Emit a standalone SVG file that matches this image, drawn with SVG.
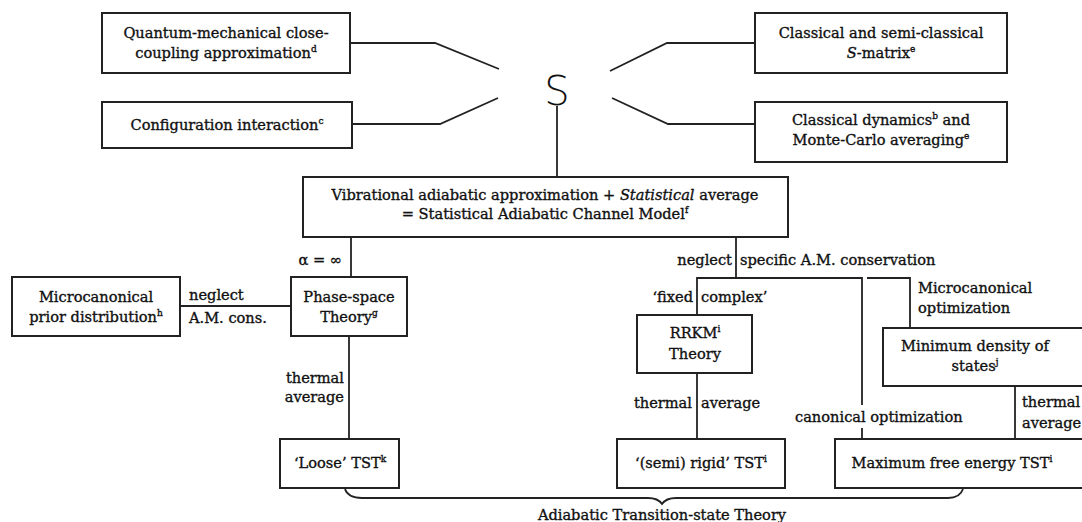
<svg xmlns="http://www.w3.org/2000/svg" width="1082" height="522" viewBox="0 0 1082 522">
<style>
.box{fill:#fff;stroke:#222;stroke-width:2}
.ln{fill:none;stroke:#222;stroke-width:1.8}
text{font-family:"DejaVu Serif","Liberation Serif",serif;font-size:14.6px;fill:#111;stroke:#111;stroke-width:0.35}
.c{text-anchor:middle}
.e{text-anchor:end}
.sup{font-size:9px}
.it{font-style:italic}
</style>
<rect width="1082" height="522" fill="#fff"/>
<g id="connectors">
<path class="ln" d="M350 43 H435 L499 69"/>
<path class="ln" d="M352 124 H440 L498 98"/>
<path class="ln" d="M610 71 L667 43 H755"/>
<path class="ln" d="M612 98 L668 124 H755"/>
<path class="ln" d="M557 106 V177"/>
<path class="ln" d="M351 237 V277"/>
<path class="ln" d="M180 306 H290"/>
<path class="ln" d="M349 337 V439"/>
<path class="ln" d="M736 237 V278"/>
<path class="ln" d="M697 315 V278 H862 V405 M862 428 V439"/>
<path class="ln" d="M867 278 H910 V328"/>
<path class="ln" d="M697 373 V439"/>
<path class="ln" d="M1015 386 V439"/>
<path class="ln" d="M345 489 Q348 498 362 498 H648 Q658 498 662 504 Q666 498 676 498 H948 Q960 498 963 489"/>
</g>
<g id="S"><text x="557" y="105" class="c" style="font-family:'DejaVu Sans','Liberation Sans',sans-serif;font-size:40px;font-weight:300;stroke:none">S</text></g>
<g id="qm">
<rect class="box" x="102" y="13" width="248" height="60"/>
<text x="226" y="38" class="c">Quantum-mechanical close-</text>
<text x="226" y="58" class="c">coupling approximation<tspan class="sup" dy="-6">d</tspan></text>
</g>
<g id="ci">
<rect class="box" x="102" y="102" width="250" height="46"/>
<text x="227" y="130" class="c">Configuration interaction<tspan class="sup" dy="-6">c</tspan></text>
</g>
<g id="smatrix">
<rect class="box" x="755" y="13" width="252" height="60"/>
<text x="881" y="38" class="c">Classical and semi-classical</text>
<text x="881" y="58" class="c"><tspan class="it">S</tspan>-matrix<tspan class="sup" dy="-6">e</tspan></text>
</g>
<g id="cd">
<rect class="box" x="755" y="102" width="252" height="60"/>
<text x="881" y="125" class="c">Classical dynamics<tspan class="sup" dy="-6">b</tspan><tspan dy="6"> and</tspan></text>
<text x="881" y="145" class="c">Monte-Carlo averaging<tspan class="sup" dy="-6">e</tspan></text>
</g>
<g id="sacm">
<rect class="box" x="303" y="177" width="485" height="60"/>
<text x="545" y="200" class="c">Vibrational adiabatic approximation + <tspan class="it">Statistical</tspan> average</text>
<text x="545" y="219" class="c">= Statistical Adiabatic Channel Model<tspan class="sup" dy="-6">f</tspan></text>
</g>
<g id="prior">
<rect class="box" x="12" y="277" width="168" height="59"/>
<text x="96" y="302" class="c">Microcanonical</text>
<text x="96" y="322" class="c">prior distribution<tspan class="sup" dy="-6">h</tspan></text>
</g>
<g id="pst">
<rect class="box" x="291" y="277" width="116" height="59"/>
<text x="349" y="302" class="c">Phase-space</text>
<text x="349" y="322" class="c">Theory<tspan class="sup" dy="-6">g</tspan></text>
</g>
<g id="rrkm">
<rect class="box" x="637" y="315" width="115" height="58"/>
<text x="695" y="338" class="c">RRKM<tspan class="sup" dy="-6">i</tspan></text>
<text x="695" y="359" class="c">Theory</text>
</g>
<g id="mindens">
<rect class="box" x="883" y="328" width="210" height="58"/>
<text x="975" y="351" class="c">Minimum density of</text>
<text x="975" y="371" class="c">states<tspan class="sup" dy="-6">j</tspan></text>
</g>
<g id="loose">
<rect class="box" x="280" y="439" width="119" height="49"/>
<text x="340" y="468" class="c">‘Loose’ TST<tspan class="sup" dy="-6">k</tspan></text>
</g>
<g id="rigid">
<rect class="box" x="617" y="439" width="168" height="49"/>
<text x="701" y="468" class="c">‘(semi) rigid’ TST<tspan class="sup" dy="-6">i</tspan></text>
</g>
<g id="maxfe">
<rect class="box" x="835" y="439" width="260" height="49"/>
<text x="952" y="468" class="c">Maximum free energy TST<tspan class="sup" dy="-6">i</tspan></text>
</g>
<g id="labels">
<text x="342" y="265" class="e">α = ∞</text>
<text x="189" y="300">neglect</text>
<text x="189" y="323">A.M. cons.</text>
<text x="344" y="383" class="e">thermal</text>
<text x="344" y="402" class="e">average</text>
<text x="732" y="265" class="e">neglect</text>
<text x="740" y="265">specific A.M. conservation</text>
<text x="693" y="302" class="e">‘fixed</text>
<text x="701" y="302">complex’</text>
<text x="918" y="293">Microcanonical</text>
<text x="918" y="313">optimization</text>
<text x="692" y="408" class="e">thermal</text>
<text x="701" y="408">average</text>
<text x="795" y="422">canonical optimization</text>
<text x="1022" y="407">thermal</text>
<text x="1022" y="428">average</text>
<text x="662" y="520" class="c">Adiabatic Transition-state Theory</text>
</g>
</svg>
